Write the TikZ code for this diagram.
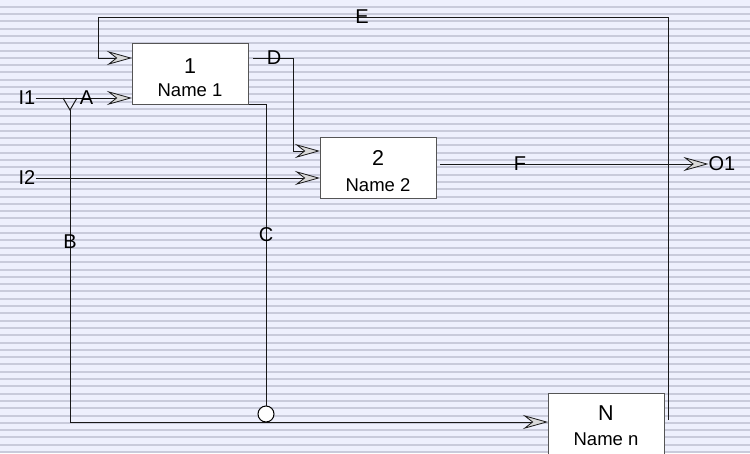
\documentclass[tikz,border=0pt]{standalone}
\usepackage{fontspec}
\setmainfont{Liberation Sans}
\usetikzlibrary{arrows.meta,calc}
\definecolor{bgc}{HTML}{EEF0FD}
\definecolor{stc}{HTML}{C9CBDB}
\definecolor{boxc}{HTML}{555555}
\begin{document}
\begin{tikzpicture}[x=1pt,y=-1pt,
  wire/.style={line width=1pt, draw=black!90},
  arr/.style={wire,-{Stealth[length=25pt,width=14pt,inset=9pt,fill=black!15,line width=0.8pt]}},
  blk/.style={draw=boxc, line width=1pt, fill=white, minimum width=116pt, minimum height=61pt, inner sep=0pt},
  ttl/.style={font=\fontsize{21.5}{21.5}\selectfont, inner sep=0pt},
  nm/.style={font=\fontsize{18.5}{18.5}\selectfont, inner sep=0pt},
  lbl/.style={font=\fontsize{20}{20}\selectfont, inner sep=0pt},
  junc/.style={circle, draw=black, fill=white, minimum size=16pt, inner sep=0pt, line width=1pt}]
\useasboundingbox (0,0) rectangle (750,453);
\fill[bgc] (0,0) rectangle (750,453);
\foreach \k in {0,...,62} \fill[stc] (0,{-1.6+7.3*\k}) rectangle (750,{0.4+7.3*\k});

% blocks
\node[blk] (b1) at (190,73.5) {};
\node[ttl] (b1t) at (190,66) {1};
\node[nm] (b1n) at (190,90) {Name 1};
\node[blk] (b2) at (378,168) {};
\node[ttl] (b2t) at (378,158) {2};
\node[nm] (b2n) at (378,185) {Name 2};
\node[blk] (bn) at (606,423.5) {};
\node[ttl] (bnt) at (606,413) {N};
\node[nm] (bnn) at (606,439) {Name n};

% terminal labels
\node[lbl] (i1) at (27,98) {I1};
\node[lbl] (i2) at (27,178) {I2};
\node[lbl] (o1) at (722,164) {O1};

% coordinates
\coordinate (eS) at (668,420);
\coordinate (eT) at (98,17);
\coordinate (b1a) at (132,58);
\coordinate (b1b) at (132,98);
\coordinate (b2a) at (320,151);
\coordinate (b2b) at (320,178);
\coordinate (bna) at (548,422);
\coordinate (split) at (70,110);
\coordinate (sp1) at (63,98);
\coordinate (sp2) at (77,98);
\coordinate (dS) at (253,58);
\coordinate (dC) at (293,151);
\coordinate (fS) at (440,164);

% connectors
\draw[arr] (eS) |- (eT) |- (b1a);
\draw[arr] (i1.east) -- (b1b);
\draw[wire] (sp1) -- (split) -- (sp2);
\draw[arr] (split) |- (bna);
\node[junc] (jc) at (266,414) {};
\draw[wire] (b1.south east) -| (jc.north);
\draw[arr] (dS) -| (dC) -- (b2a);
\draw[arr] (i2.east) -- (b2b);
\draw[arr] (fS) -- (o1.west);

% connector labels
\node[lbl] (la) at (86.5,98) {A};
\node[lbl] (lb) at (70,242) {B};
\node[lbl] (lc) at (266,235) {C};
\node[lbl] (ld) at (274,58) {D};
\node[lbl] (le) at (362,17) {E};
\node[lbl] (lf) at (520,164) {F};
\end{tikzpicture}
\end{document}
